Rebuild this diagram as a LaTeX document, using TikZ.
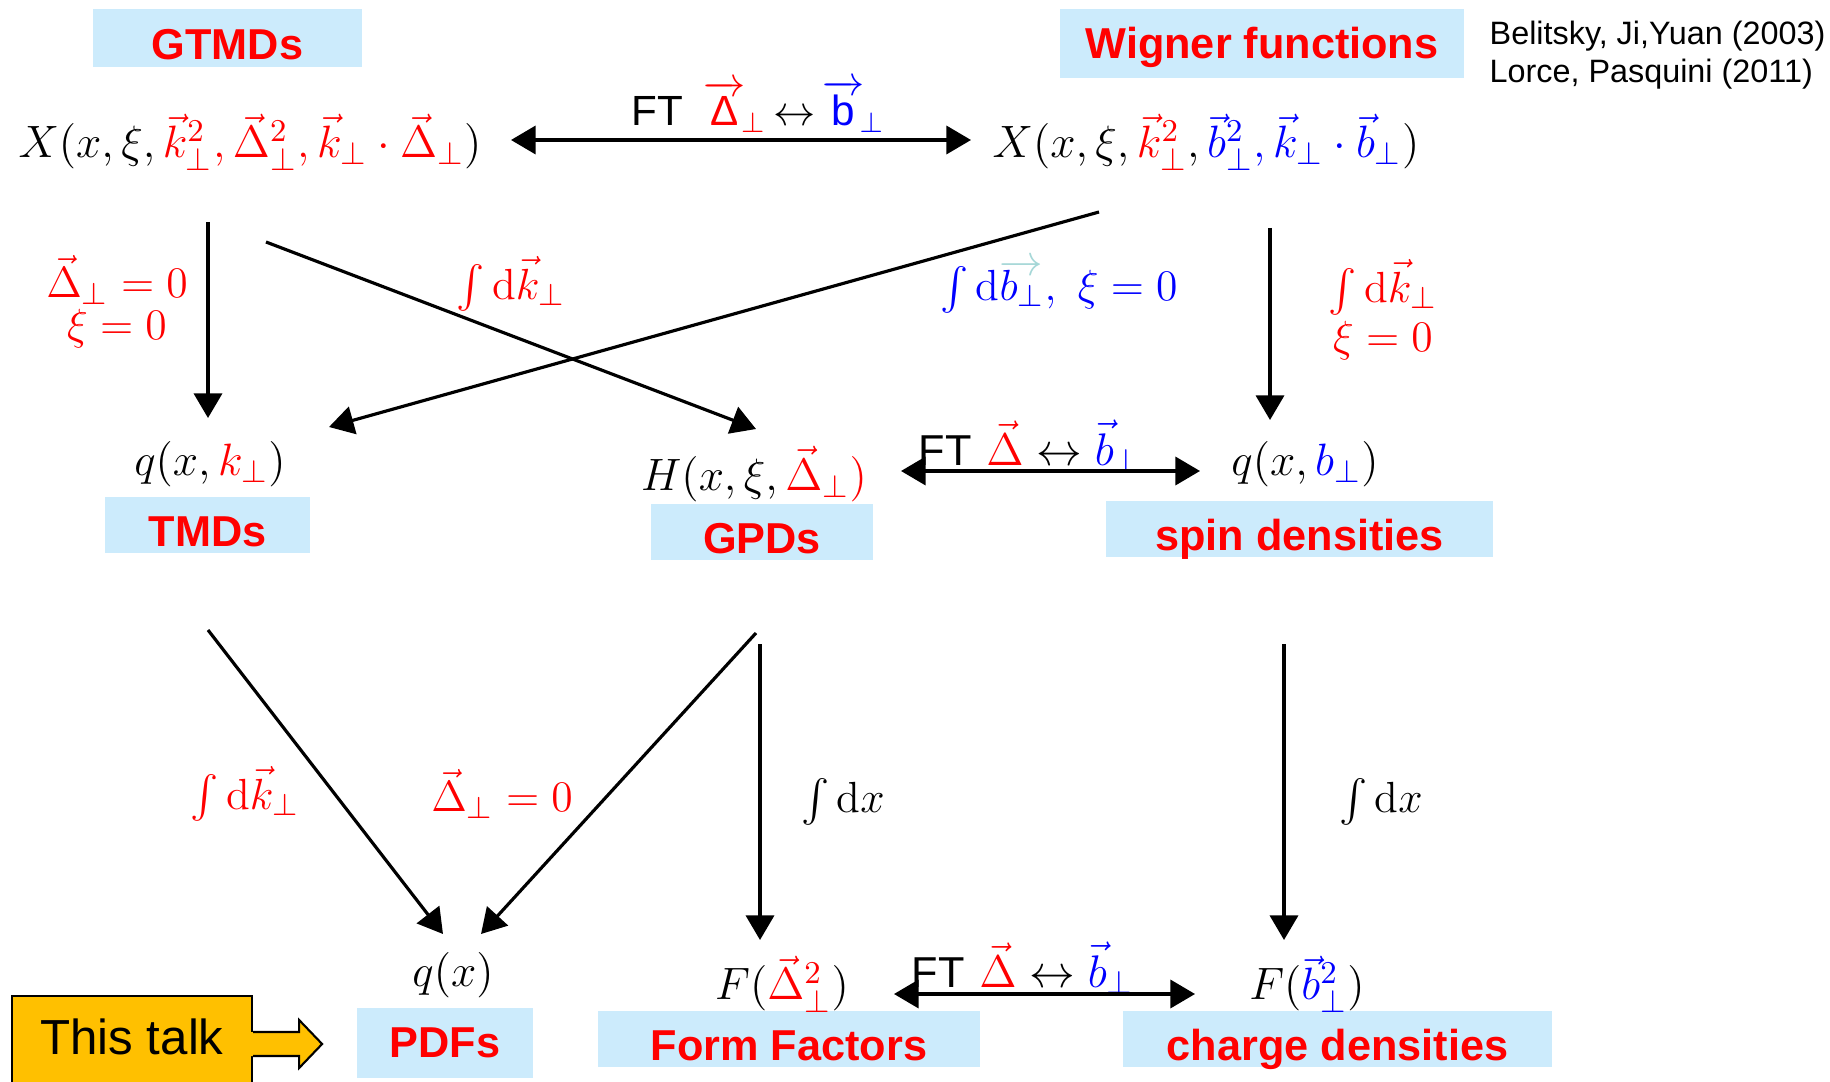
\documentclass[tikz,border=0pt]{standalone}
\usepackage{fix-cm}
\usepackage{fontspec}
\setsansfont{Liberation Sans}
\usepackage{amsmath}
\usepackage{tikz}
\usetikzlibrary{arrows.meta}

\definecolor{boxblue}{RGB}{204,235,252}
\definecolor{talkorange}{RGB}{255,192,0}
\definecolor{pale}{RGB}{165,215,215}

\begin{document}
\begin{tikzpicture}[x=0.01cm, y=-0.01cm,
            tag/.style    ={rectangle, fill=boxblue, text=red, inner sep=0pt,
                            font=\sffamily\bfseries\fontsize{12.3}{14}\selectfont},
            low/.style    ={text height=12.4pt, text depth=0pt},
            formula/.style={inner sep=2pt, font=\fontsize{12.9}{15}\selectfont},
            cond/.style   ={inner sep=1pt, align=center, text=red, font=\fontsize{12.4}{12}\selectfont},
            ftlabel/.style={inner sep=0pt, font=\fontsize{13}{15}\selectfont},
            talk/.style   ={rectangle, draw=black, fill=talkorange, line width=0.6pt,
                            minimum width=2.4cm, minimum height=0.94cm, text depth=3.8pt,
                            font=\sffamily\fontsize{14}{16}\selectfont},
            arr/.style    ={-{Triangle[length=7pt,width=8pt]}, line width=0.9pt},
            dbl/.style    ={{Triangle[length=7pt,width=8pt]}-{Triangle[length=7pt,width=8pt]}, line width=0.9pt}
        ]
            \useasboundingbox (0,0) rectangle (1830,1082);

            % names of the distributions
            \node[tag, low, minimum width=2.69cm, minimum height=0.58cm] (gtmd)  at (227.5,38)   {GTMDs};
            \node[tag, text height=8.8pt, text depth=0pt,
                  minimum width=4.04cm, minimum height=0.69cm]           (wig)   at (1262,43.5)  {Wigner functions};
            \node[tag, low, minimum width=2.05cm, minimum height=0.56cm] (tmd)   at (207.5,525)  {TMDs};
            \node[tag, low, minimum width=2.22cm, minimum height=0.55cm] (gpd)   at (762,532)    {GPDs};
            \node[tag, low, minimum width=3.87cm, minimum height=0.55cm] (spin)  at (1299.5,529) {spin densities};
            \node[tag, minimum width=1.76cm, minimum height=0.69cm]      (pdf)   at (445,1043)   {PDFs};
            \node[tag, low, minimum width=3.82cm, minimum height=0.56cm] (ff)    at (789,1039)   {Form Factors};
            \node[tag, low, minimum width=4.29cm, minimum height=0.56cm] (cd)    at (1337.5,1039) {charge densities};

            \node[anchor=west, align=left, inner sep=0pt, font=\sffamily\fontsize{9.2}{11}\selectfont]
                 (refs) at (1489,55) {Belitsky, Ji,Yuan (2003)\\Lorce, Pasquini (2011)};

            % the functions
            \node[formula] (xk)  at (250,142)  {$X(x,\xi,\textcolor{red}{\vec k_\perp^2,\vec\Delta_\perp^2,\vec k_\perp\cdot\vec\Delta_\perp})$};
            \node[formula] (xb)  at (1206,142) {$X(x,\xi,\textcolor{red}{\vec k_\perp^2},\textcolor{blue}{\vec b_\perp^2,\vec k_\perp\cdot\vec b_\perp})$};
            \node[formula] (qk)  at (210,464)  {$q(x,\textcolor{red}{k_\perp})$};
            \node[formula] (hx)  at (754,474)  {$H(x,\xi,\textcolor{red}{\vec\Delta_\perp)}$};
            \node[formula] (qb)  at (1305,464) {$q(x,\textcolor{blue}{b_\perp})$};
            \node[formula] (qx)  at (453,975)  {$q(x)$};
            \node[formula] (fd)  at (782,984)  {$F(\textcolor{red}{\vec\Delta_\perp^2})$};
            \node[formula] (fb)  at (1307,984) {$F(\textcolor{blue}{\vec b_\perp^2})$};

            % labels of the arrows
            \node[ftlabel, anchor=base, font=\fontsize{12}{14}\selectfont] (fttop) at (758,126)
                 {\sffamily FT\hspace{0.5em}\textcolor{red}{$\overrightarrow{\hbox{\sffamily Δ}}_{\!\perp}$}\,$\leftrightarrow$\,\textcolor{blue}{$\overrightarrow{\hbox{\sffamily b}}_{\!\perp}$}};
            \node[ftlabel, anchor=base west] (ftmid) at (918,465)
                 {{\sffamily\fontsize{12.3}{14}\selectfont FT}\ $\textcolor{red}{\vec\Delta}\leftrightarrow\textcolor{blue}{\vec b_\perp}$};
            \node[ftlabel, anchor=base west] (ftbot) at (911,987)
                 {{\sffamily\fontsize{12.3}{14}\selectfont FT}\ $\textcolor{red}{\vec\Delta}\leftrightarrow\textcolor{blue}{\vec b_\perp}$};

            \node[cond] (ldk)  at (117,302)  {$\vec\Delta_\perp=0$\\$\xi=0$};
            \node[cond] (lik)  at (511,284)  {$\int\mathrm{d}\vec k_\perp$};
            \node[cond, text=blue] (lib) at (1059,286)
                 {$\int\mathrm{d}b\kern-5.3pt\raisebox{1.35ex}{$\textcolor{pale}{\rightarrow}$}\kern-7.1pt{}_\perp,\ \xi=0$};
            \node[cond, font=\fontsize{12.4}{14}\selectfont] (lkb) at (1383,310) {$\int\mathrm{d}\vec k_\perp$\\$\xi=0$};
            \node[cond] (lpk)  at (245,794)  {$\int\mathrm{d}\vec k_\perp$};
            \node[cond] (lpd)  at (502,794)  {$\vec\Delta_\perp=0$};
            \node[cond, text=black] (lxf) at (843,802)  {$\int\mathrm{d}x$};
            \node[cond, text=black] (lxb) at (1381,802) {$\int\mathrm{d}x$};

            % connectors
            \draw[dbl] ([shift={(261,-2)}]xk.center)  -- ([shift={(-235,-2)}]xb.center);
            \draw[arr] ([shift={(-42,80)}]xk.center)  -- ([shift={(-2,-46)}]qk.center);
            \draw[arr] ([shift={(16,100)}]xk.center)  -- ([shift={(2,-45)}]hx.center);
            \draw[arr] ([shift={(-107,70)}]xb.center) -- ([shift={(119,-37)}]qk.center);
            \draw[arr] ([shift={(64,86)}]xb.center)   -- ([shift={(-35,-44)}]qb.center);

            \draw[dbl] ([shift={(147,-3)}]hx.center)  -- ([shift={(-105,7)}]qb.center);

            \draw[arr] ([shift={(-2,166)}]qk.center)  -- ([shift={(-10,-41)}]qx.center);
            \draw[arr] ([shift={(2,159)}]hx.center)   -- ([shift={(28,-41)}]qx.center);
            \draw[arr] ([shift={(6,170)}]hx.center)   -- ([shift={(-22,-44)}]fd.center);
            \draw[arr] ([shift={(-21,180)}]qb.center) -- ([shift={(-23,-44)}]fb.center);

            \draw[dbl] ([shift={(112,10)}]fd.center)  -- ([shift={(-112,10)}]fb.center);

            % this talk
            \node[talk] (talk) at (132,1043) {This talk};
            \fill[talkorange] ([shift={(-2,-11)}]talk.east) -- ++(48,0) -- ++(0,-12) -- ++(23,24)
                  -- ++(-23,24) -- ++(0,-12) -- ++(-48,0) -- cycle;
            \draw[line width=0.6pt] ([shift={(0,-11)}]talk.east) -- ++(46,0) -- ++(0,-12) -- ++(23,24)
                  -- ++(-23,24) -- ++(0,-12) -- ++(-46,0);

        \end{tikzpicture}
\end{document}
